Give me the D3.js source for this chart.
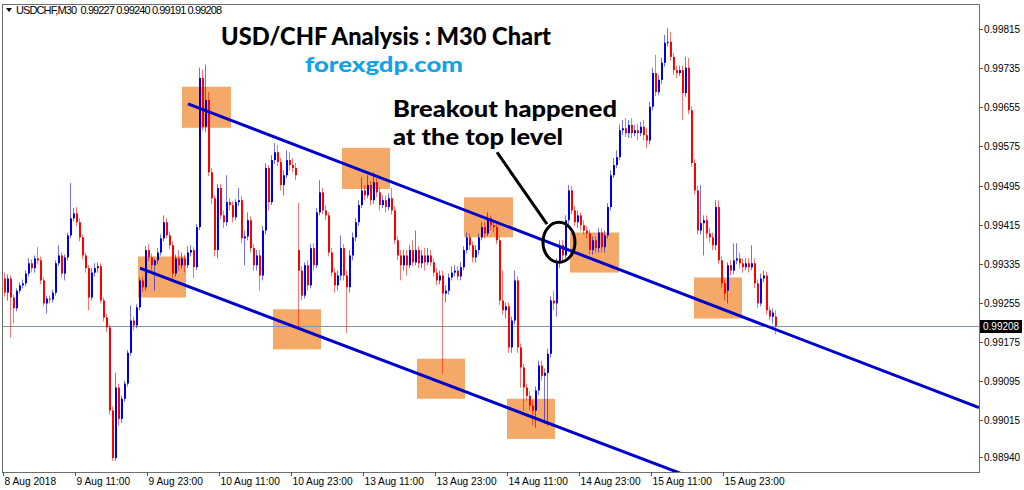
<!DOCTYPE html>
<html><head><meta charset="utf-8">
<script src="https://cdn.jsdelivr.net/npm/d3@7"></script>
<style>body{margin:0;background:#fff}svg{display:block}</style>
</head><body>
<svg id="c" width="1024" height="490"></svg>
<script>
const opens = [0.99305,0.99276,0.99305,0.99266,0.99244,0.99280,0.99291,0.99295,0.99315,0.99336,
0.99326,0.99346,0.99342,0.99301,0.99254,0.99264,0.99262,0.99276,0.99336,0.99352,
0.99315,0.99348,0.99393,0.99428,0.99438,0.99420,0.99389,0.99352,0.99326,0.99266,
0.99317,0.99326,0.99330,0.99260,0.99225,0.99205,0.99035,0.98938,0.99082,0.99018,
0.99059,0.99090,0.99153,0.99219,0.99209,0.99246,0.99301,0.99287,0.99363,0.99348,
0.99332,0.99342,0.99358,0.99387,0.99420,0.99393,0.99373,0.99315,0.99346,0.99332,
0.99346,0.99332,0.99358,0.99363,0.99328,0.99410,0.99715,0.99615,0.99670,0.99522,
0.99469,0.99363,0.99490,0.99434,0.99420,0.99461,0.99455,0.99430,0.99461,0.99465,
0.99387,0.99391,0.99424,0.99367,0.99332,0.99352,0.99311,0.99403,0.99531,0.99461,
0.99547,0.99563,0.99543,0.99496,0.99516,0.99547,0.99537,0.99531,0.99363,0.99321,
0.99270,0.99332,0.99291,0.99367,0.99332,0.99440,0.99481,0.99444,0.99434,0.99358,
0.99317,0.99291,0.99311,0.99367,0.99311,0.99287,0.99352,0.99389,0.99420,0.99455,
0.99485,0.99475,0.99496,0.99465,0.99502,0.99481,0.99455,0.99465,0.99451,0.99469,
0.99444,0.99383,0.99352,0.99332,0.99352,0.99332,0.99363,0.99338,0.99363,0.99336,
0.99352,0.99338,0.99352,0.99338,0.99317,0.99301,0.99311,0.99274,0.99280,0.99307,
0.99317,0.99321,0.99309,0.99328,0.99363,0.99389,0.99373,0.99348,0.99363,0.99389,
0.99410,0.99397,0.99428,0.99414,0.99410,0.99383,0.99260,0.99240,0.99248,0.99164,
0.99219,0.99301,0.99164,0.99123,0.99082,0.99065,0.99045,0.99035,0.99076,0.99127,
0.99106,0.99112,0.99151,0.99260,0.99254,0.99336,0.99373,0.99352,0.99424,0.99485,
0.99444,0.99420,0.99434,0.99414,0.99403,0.99397,0.99363,0.99383,0.99367,0.99399,
0.99369,0.99393,0.99451,0.99516,0.99537,0.99553,0.99608,0.99612,0.99602,0.99619,
0.99602,0.99608,0.99602,0.99615,0.99598,0.99587,0.99656,0.99725,0.99686,0.99711,
0.99746,0.99787,0.99789,0.99758,0.99731,0.99725,0.99731,0.99684,0.99736,0.99649,
0.99541,0.99485,0.99403,0.99418,0.99424,0.99397,0.99389,0.99373,0.99451,0.99342,
0.99295,0.99280,0.99332,0.99321,0.99342,0.99346,0.99336,0.99328,0.99336,0.99328,
0.99336,0.99295,0.99254,0.99305,0.99311,0.99240,0.99227,0.99227];
const highs = [0.99317,0.99313,0.99311,0.99272,0.99285,0.99297,0.99303,0.99322,0.99346,0.99344,
0.99352,0.99369,0.99350,0.99307,0.99270,0.99270,0.99282,0.99342,0.99373,0.99358,
0.99354,0.99399,0.99500,0.99449,0.99451,0.99428,0.99395,0.99358,0.99332,0.99326,
0.99336,0.99338,0.99336,0.99266,0.99233,0.99211,0.99043,0.99112,0.99090,0.99065,
0.99096,0.99159,0.99250,0.99227,0.99252,0.99307,0.99309,0.99371,0.99375,0.99356,
0.99346,0.99367,0.99395,0.99434,0.99428,0.99401,0.99381,0.99354,0.99363,0.99358,
0.99354,0.99371,0.99373,0.99369,0.99416,0.99736,0.99732,0.99742,0.99686,0.99531,
0.99475,0.99498,0.99498,0.99444,0.99516,0.99469,0.99463,0.99467,0.99490,0.99473,
0.99403,0.99440,0.99432,0.99375,0.99363,0.99363,0.99412,0.99541,0.99537,0.99557,
0.99582,0.99578,0.99551,0.99526,0.99567,0.99563,0.99551,0.99541,0.99459,0.99330,
0.99338,0.99342,0.99375,0.99377,0.99449,0.99506,0.99490,0.99455,0.99440,0.99367,
0.99326,0.99321,0.99393,0.99375,0.99321,0.99363,0.99399,0.99428,0.99465,0.99512,
0.99496,0.99516,0.99504,0.99522,0.99510,0.99490,0.99475,0.99475,0.99479,0.99490,
0.99453,0.99391,0.99363,0.99363,0.99363,0.99373,0.99383,0.99403,0.99371,0.99363,
0.99367,0.99367,0.99363,0.99346,0.99326,0.99321,0.99321,0.99291,0.99315,0.99330,
0.99332,0.99330,0.99338,0.99371,0.99399,0.99397,0.99381,0.99373,0.99397,0.99420,
0.99420,0.99440,0.99434,0.99424,0.99418,0.99391,0.99321,0.99256,0.99256,0.99227,
0.99321,0.99309,0.99172,0.99131,0.99090,0.99075,0.99055,0.99084,0.99137,0.99137,
0.99121,0.99161,0.99268,0.99280,0.99346,0.99383,0.99383,0.99434,0.99496,0.99494,
0.99453,0.99444,0.99440,0.99424,0.99412,0.99405,0.99391,0.99391,0.99408,0.99408,
0.99403,0.99459,0.99526,0.99551,0.99567,0.99619,0.99629,0.99633,0.99629,0.99633,
0.99619,0.99621,0.99625,0.99629,0.99612,0.99666,0.99736,0.99762,0.99721,0.99756,
0.99803,0.99817,0.99809,0.99766,0.99740,0.99740,0.99740,0.99758,0.99756,0.99657,
0.99549,0.99494,0.99496,0.99434,0.99434,0.99408,0.99399,0.99465,0.99465,0.99350,
0.99303,0.99338,0.99342,0.99377,0.99377,0.99358,0.99346,0.99346,0.99346,0.99373,
0.99346,0.99303,0.99315,0.99321,0.99319,0.99248,0.99244,0.99240];
const lows = [0.99268,0.99260,0.99184,0.99213,0.99238,0.99274,0.99285,0.99289,0.99309,0.99317,
0.99317,0.99334,0.99293,0.99248,0.99233,0.99254,0.99256,0.99270,0.99330,0.99307,
0.99301,0.99342,0.99387,0.99422,0.99412,0.99381,0.99344,0.99317,0.99240,0.99260,
0.99309,0.99317,0.99254,0.99217,0.99196,0.99026,0.98932,0.98932,0.99004,0.99010,
0.99053,0.99084,0.99147,0.99198,0.99203,0.99240,0.99278,0.99280,0.99340,0.99321,
0.99280,0.99334,0.99352,0.99381,0.99387,0.99365,0.99305,0.99309,0.99321,0.99326,
0.99317,0.99326,0.99350,0.99305,0.99322,0.99404,0.99607,0.99604,0.99514,0.99457,
0.99350,0.99346,0.99426,0.99408,0.99412,0.99444,0.99420,0.99424,0.99453,0.99377,
0.99332,0.99383,0.99358,0.99321,0.99321,0.99280,0.99301,0.99395,0.99444,0.99455,
0.99539,0.99535,0.99485,0.99475,0.99510,0.99526,0.99522,0.99506,0.99205,0.99260,
0.99264,0.99280,0.99285,0.99321,0.99326,0.99434,0.99436,0.99424,0.99350,0.99309,
0.99276,0.99280,0.99301,0.99301,0.99194,0.99276,0.99342,0.99381,0.99412,0.99449,
0.99465,0.99469,0.99455,0.99457,0.99471,0.99444,0.99449,0.99440,0.99444,0.99436,
0.99375,0.99342,0.99301,0.99321,0.99311,0.99326,0.99330,0.99332,0.99326,0.99326,
0.99321,0.99332,0.99330,0.99309,0.99291,0.99293,0.99110,0.99256,0.99272,0.99301,
0.99309,0.99301,0.99301,0.99322,0.99356,0.99363,0.99338,0.99338,0.99354,0.99383,
0.99387,0.99391,0.99403,0.99399,0.99375,0.99250,0.99231,0.99223,0.99153,0.99153,
0.99211,0.99153,0.99082,0.99035,0.99055,0.99035,0.99004,0.99000,0.99067,0.99096,
0.99008,0.99004,0.99143,0.99240,0.99227,0.99326,0.99338,0.99346,0.99416,0.99436,
0.99412,0.99408,0.99403,0.99395,0.99387,0.99354,0.99354,0.99358,0.99358,0.99358,
0.99358,0.99387,0.99444,0.99510,0.99531,0.99547,0.99598,0.99594,0.99592,0.99592,
0.99596,0.99587,0.99596,0.99587,0.99571,0.99579,0.99649,0.99678,0.99680,0.99703,
0.99738,0.99779,0.99750,0.99721,0.99715,0.99719,0.99629,0.99676,0.99641,0.99533,
0.99477,0.99395,0.99395,0.99352,0.99387,0.99379,0.99363,0.99363,0.99334,0.99285,
0.99260,0.99254,0.99311,0.99313,0.99334,0.99326,0.99317,0.99322,0.99317,0.99322,
0.99285,0.99244,0.99248,0.99297,0.99231,0.99219,0.99213,0.99191];
const closes = [0.99276,0.99305,0.99266,0.99244,0.99280,0.99291,0.99295,0.99315,0.99336,0.99326,
0.99346,0.99342,0.99301,0.99254,0.99264,0.99262,0.99276,0.99336,0.99352,0.99315,
0.99348,0.99393,0.99428,0.99438,0.99420,0.99389,0.99352,0.99326,0.99266,0.99317,
0.99326,0.99330,0.99260,0.99225,0.99205,0.99035,0.98938,0.99082,0.99018,0.99059,
0.99090,0.99153,0.99219,0.99209,0.99246,0.99301,0.99287,0.99363,0.99348,0.99332,
0.99342,0.99358,0.99387,0.99420,0.99393,0.99373,0.99315,0.99346,0.99332,0.99346,
0.99332,0.99358,0.99363,0.99328,0.99410,0.99715,0.99615,0.99670,0.99522,0.99469,
0.99363,0.99490,0.99434,0.99420,0.99461,0.99455,0.99430,0.99461,0.99465,0.99387,
0.99391,0.99424,0.99367,0.99332,0.99352,0.99311,0.99403,0.99531,0.99461,0.99547,
0.99563,0.99543,0.99496,0.99516,0.99547,0.99537,0.99531,0.99516,0.99321,0.99270,
0.99332,0.99291,0.99367,0.99332,0.99440,0.99481,0.99444,0.99434,0.99358,0.99317,
0.99291,0.99311,0.99367,0.99311,0.99287,0.99352,0.99389,0.99420,0.99455,0.99485,
0.99475,0.99496,0.99465,0.99502,0.99481,0.99455,0.99465,0.99451,0.99469,0.99444,
0.99383,0.99352,0.99332,0.99352,0.99332,0.99363,0.99338,0.99363,0.99336,0.99352,
0.99338,0.99352,0.99338,0.99317,0.99301,0.99311,0.99274,0.99280,0.99307,0.99317,
0.99321,0.99309,0.99328,0.99363,0.99389,0.99373,0.99348,0.99363,0.99389,0.99410,
0.99397,0.99428,0.99414,0.99410,0.99383,0.99260,0.99240,0.99248,0.99164,0.99219,
0.99301,0.99164,0.99123,0.99082,0.99065,0.99045,0.99035,0.99076,0.99127,0.99106,
0.99112,0.99151,0.99260,0.99254,0.99336,0.99373,0.99352,0.99424,0.99485,0.99444,
0.99420,0.99434,0.99414,0.99403,0.99397,0.99363,0.99383,0.99367,0.99399,0.99369,
0.99393,0.99451,0.99516,0.99537,0.99553,0.99608,0.99612,0.99602,0.99619,0.99602,
0.99608,0.99602,0.99615,0.99598,0.99587,0.99656,0.99725,0.99686,0.99711,0.99746,
0.99787,0.99789,0.99758,0.99731,0.99725,0.99731,0.99684,0.99736,0.99649,0.99541,
0.99485,0.99403,0.99418,0.99424,0.99397,0.99389,0.99373,0.99451,0.99342,0.99295,
0.99274,0.99332,0.99321,0.99342,0.99346,0.99336,0.99328,0.99336,0.99328,0.99336,
0.99295,0.99254,0.99305,0.99311,0.99240,0.99227,0.99235,0.99208];

const yTicks = [0.99815,0.99735,0.99655,0.99575,0.99495,0.99415,0.99335,0.99255,0.99175,0.99095,0.99015,0.98940];
const xTickIdx = [0,24,48,72,96,120,144,168,192,216,240];
const xTickLabels = ["8 Aug 2018","9 Aug 11:00","9 Aug 23:00","10 Aug 11:00","10 Aug 23:00","13 Aug 11:00","13 Aug 23:00","14 Aug 11:00","14 Aug 23:00","15 Aug 11:00","15 Aug 23:00"];
const lastPrice = 0.99208;
const headerText = "USDCHF,M30  0.99227 0.99240 0.99191 0.99208";
// trendlines [barIndex, price]
const upperLine = [[61.67,0.99662],[325.33,0.99041]];
const lowerLine = [[45.67,0.99326],[225.67,0.98907]];
// zones [startIdx, endIdx, topPrice, bottomPrice]
const zones = [[59.67,76,0.99697,0.99613],[45,61,0.99350,0.99266],[90,106,0.99242,0.99160],
[113,129,0.99572,0.99488],[138,154,0.99141,0.99059],[153.67,170,0.99471,0.99389],
[168,184,0.99059,0.98977],[189,205.33,0.99399,0.99317],[230.33,246.33,0.99307,0.99223]];
const breakoutAt = [185.33,0.99379];
const pointer = [[164.67,0.99563],[181.33,0.99416]];

const svg = d3.select("#c");
const L=3,R=979,T=4,B=472;
const x = d3.scaleLinear().domain([0,258]).range([3,777]);
const y = d3.scaleLinear().domain([0.98940,0.99815]).range([457,29]);

svg.append("rect").attr("width",1024).attr("height",490).attr("fill","#fff");
svg.append("defs").append("clipPath").attr("id","clip").append("rect")
  .attr("x",L).attr("y",T).attr("width",R-L).attr("height",B-T);
const plot = svg.append("g").attr("clip-path","url(#clip)");

// zones
plot.selectAll("rect.zone").data(zones).join("rect").attr("class","zone")
  .attr("x",d=>x(d[0])).attr("width",d=>x(d[1])-x(d[0]))
  .attr("y",d=>y(d[2])).attr("height",d=>y(d[3])-y(d[2]))
  .attr("fill","#f4a460").attr("opacity",0.95);

// price line
plot.append("line").attr("x1",L).attr("x2",R)
  .attr("y1",Math.round(y(lastPrice))+0.5).attr("y2",Math.round(y(lastPrice))+0.5)
  .attr("stroke","#8593a6").attr("stroke-width",1);

// candles
const idx = d3.range(closes.length);
const up = i => closes[i] >= opens[i];
const col = i => up(i) ? "#0000e6" : "#ff0000";
plot.selectAll("line.wick").data(idx).join("line").attr("class","wick")
  .attr("x1",i=>Math.floor(x(i+0.5))+0.5).attr("x2",i=>Math.floor(x(i+0.5))+0.5)
  .attr("y1",i=>y(highs[i])).attr("y2",i=>y(lows[i]))
  .attr("stroke",col).attr("stroke-opacity",0.55).attr("stroke-width",1);
plot.selectAll("rect.body").data(idx).join("rect").attr("class","body")
  .attr("x",i=>Math.floor(x(i+0.5))).attr("width",2)
  .attr("y",i=>y(Math.max(opens[i],closes[i])))
  .attr("height",i=>Math.max(1,Math.abs(y(opens[i])-y(closes[i]))))
  .attr("fill",col);

// trendlines
[upperLine,lowerLine].forEach(l=>{
  plot.append("line").attr("x1",x(l[0][0])).attr("y1",y(l[0][1]))
    .attr("x2",x(l[1][0])).attr("y2",y(l[1][1]))
    .attr("stroke","#0000cd").attr("stroke-width",3);
});

// pointer and circle
plot.append("line").attr("x1",x(pointer[0][0])).attr("y1",y(pointer[0][1]))
  .attr("x2",x(pointer[1][0])).attr("y2",y(pointer[1][1]))
  .attr("stroke","#000").attr("stroke-width",3);
plot.append("ellipse").attr("cx",x(breakoutAt[0])).attr("cy",y(breakoutAt[1]))
  .attr("rx",16).attr("ry",20).attr("fill","none").attr("stroke","#000").attr("stroke-width",3);

// frame
svg.append("rect").attr("x",L-0.5).attr("y",T+0.5).attr("width",R-L+1).attr("height",B-T)
  .attr("fill","none").attr("stroke","#6e6e6e").attr("stroke-width",1);

// y axis
const ya = svg.append("g").attr("font-family","Liberation Sans, Arial, sans-serif").attr("font-size",10).attr("fill","#000");
yTicks.forEach(v=>{
  const yy = Math.round(y(v))+0.5;
  ya.append("line").attr("x1",R).attr("x2",R+4).attr("y1",yy).attr("y2",yy).attr("stroke","#555");
  ya.append("text").attr("x",R+5).attr("y",yy+3.5).text(d3.format(".5f")(v));
});
const ly = Math.round(y(lastPrice));
svg.append("rect").attr("x",R+1).attr("y",ly-6).attr("width",42).attr("height",13).attr("fill","#000");
svg.append("text").attr("x",R+4).attr("y",ly+4).attr("font-family","Liberation Sans, Arial, sans-serif")
  .attr("font-size",10).attr("fill","#fff").text(d3.format(".5f")(lastPrice));

// x axis
const xa = svg.append("g").attr("font-family","Liberation Sans, Arial, sans-serif").attr("font-size",10.2).attr("fill","#000");
xTickIdx.forEach((k,j)=>{
  const xx = Math.round(x(k))+0.5;
  xa.append("line").attr("x1",xx).attr("x2",xx).attr("y1",B).attr("y2",B+4).attr("stroke","#555");
  xa.append("text").attr("x",xx+1).attr("y",B+13).text(xTickLabels[j]);
});

// header
svg.append("path").attr("d","M6,8 L12,8 L9,12 Z").attr("fill","#000");
svg.append("text").attr("x",16).attr("y",14).attr("font-family","Liberation Sans, Arial, sans-serif")
  .attr("font-size",11).attr("fill","#000").attr("textLength",206).attr("xml:space","preserve").text(headerText);

// annotations text
const tf = "Lato, 'Open Sans', sans-serif";
svg.append("text").attr("x",221).attr("y",45).attr("font-family",tf).attr("font-weight",900)
  .attr("font-size",24).attr("textLength",330).attr("lengthAdjust","spacingAndGlyphs").attr("fill","#000")
  .text("USD/CHF Analysis : M30 Chart");
svg.append("text").attr("x",305).attr("y",72).attr("font-family",tf).attr("font-weight",900)
  .attr("font-size",21).attr("textLength",158).attr("lengthAdjust","spacingAndGlyphs").attr("fill","#12a3e6")
  .text("forexgdp.com");
svg.append("text").attr("x",393).attr("y",117).attr("font-family",tf).attr("font-weight",900)
  .attr("font-size",23).attr("textLength",224).attr("lengthAdjust","spacingAndGlyphs").attr("fill","#000")
  .text("Breakout happened");
svg.append("text").attr("x",393).attr("y",145).attr("font-family",tf).attr("font-weight",900)
  .attr("font-size",23).attr("textLength",170).attr("lengthAdjust","spacingAndGlyphs").attr("fill","#000")
  .text("at the top level");
</script>
</body></html>
